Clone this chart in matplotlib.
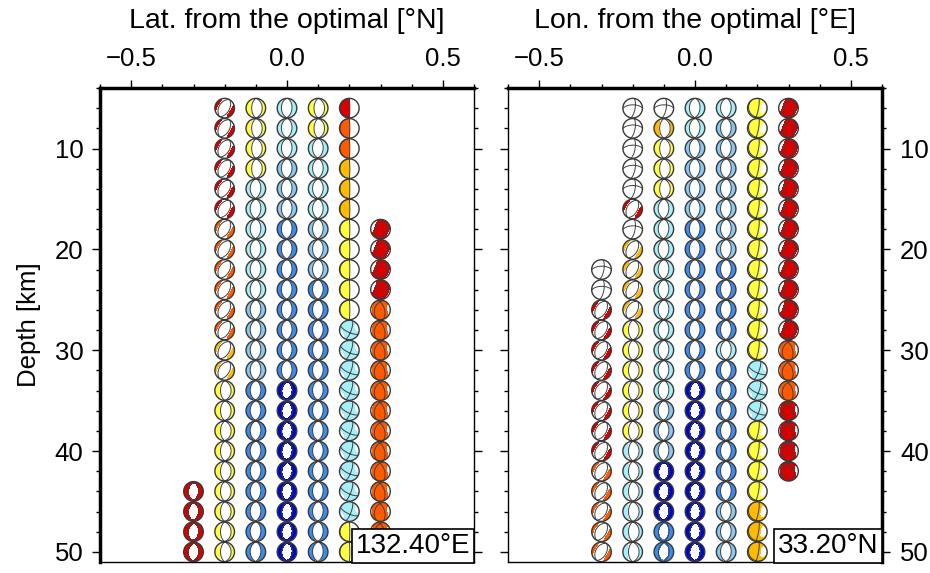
import numpy as np
import matplotlib.pyplot as plt
from matplotlib.patches import Ellipse

plt.rcParams['font.family'] = ['Liberation Sans', 'DejaVu Sans']

# depth of the grid nodes [km]
depth_step = 2

# Lat. panel: offset of each column, first depth, colour code of each ball, mechanism code
lat_offsets = [-0.3, -0.2, -0.1, 0.0, 0.1, 0.2, 0.3]
lat_start = [44, 6, 6, 6, 6, 6, 18]
lat_colours = [
    "RRRR",
    "RRRRRROOOOOOAAYYYYYYYYY",
    "YYYYCCCCCCSSSSBBBBBBBBB",
    "CCCSSSBBBBBBBBDDDDDDDDD",
    "YYCCCCSSSBBBBBBBBBBBBBB",
    "ROOAAAYYYYYCCCCCCCCCCYY",
    "RRRROOOOOOOOOOOOO",
]
lat_mechs = [
    "cccc",
    "aaaaaaaaaaaaaaeeeeeeeee",
    "eeeebbbbbbbbbbbbbbbbbbb",
    "bbbbbbbbbbbbbbccccccccc",
    "eebbbbbbbbbbbbbbbbbbbbb",
    "vvvvvvvvvvvxxxxxxxxxxvv",
    "rrrrttttttttttttt",
]

# Lon. panel
lon_offsets = [-0.3, -0.2, -0.1, 0.0, 0.1, 0.2, 0.3]
lon_start = [22, 6, 6, 6, 6, 6, 6]
lon_colours = [
    "WWRRRRRRRROOOOO",
    "WWWWWRWAAAAYYYYYYCCCCCC",
    "WAYYYCCCCCCCCCCSSSDDDBB",
    "CCSSSSBBBBBBBBDDDDDDDDD",
    "CSSSSSSSBBBBCBBBBBBBSSS",
    "YYYYYYYYYYYYYCCCYYYYAAA",
    "RRRRRRRRRRRROOORRRR",
]
lon_mechs = [
    "wwaaaaaaaaaaaaa",
    "wwwwwawaaaaeeeeeeeeeeee",
    "weeeebbbbbbbbbbbbbccccc",
    "bbbbbbbbbbbbbbccccccccc",
    "bbbbbbbbbbbbbbbbbbbbbbb",
    "yyyyyyyyyyyyyxxxyyyyyyy",
    "rrrrrrrrrrrrttttttt",
]

colour_table = {
    "W": "#ffffff", "R": "#d80000", "O": "#ff5a00", "A": "#ffbb00",
    "Y": "#ffff40", "C": "#a8eef8", "S": "#88c8f2", "B": "#3c8cf0",
    "D": "#0008c8",
}
# strike, dip, rake, isotropic part
mech_table = {
    "a": (30, 50, -90, -0.5),
    "e": (180, 55, -90, -0.3),
    "b": (5, 48, -85, -0.1),
    "c": (5, 45, -90, 0.08),
    "v": (0, 86, 90, 0.0),
    "x": (20, 75, 160, 0.55),
    "r": (30, 35, 100, 0.5),
    "t": (200, 40, 120, 0.6),
    "y": (10, 80, 100, 0.45),
    "w": (10, 70, -150, 0.0),
}


def moment(strike, dip, rake):
    s, d, l = np.radians([strike, dip, rake])
    mxx = -(np.sin(d) * np.cos(l) * np.sin(2 * s) + np.sin(2 * d) * np.sin(l) * np.sin(s) ** 2)
    mxy = np.sin(d) * np.cos(l) * np.cos(2 * s) + 0.5 * np.sin(2 * d) * np.sin(l) * np.sin(2 * s)
    mxz = -(np.cos(d) * np.cos(l) * np.cos(s) + np.cos(2 * d) * np.sin(l) * np.sin(s))
    myy = np.sin(d) * np.cos(l) * np.sin(2 * s) - np.sin(2 * d) * np.sin(l) * np.cos(s) ** 2
    myz = -(np.cos(d) * np.cos(l) * np.sin(s) - np.cos(2 * d) * np.sin(l) * np.cos(s))
    mzz = np.sin(2 * d) * np.sin(l)
    return np.array([[mxx, mxy, mxz], [mxy, myy, myz], [mxz, myz, mzz]])


# unit disc grid, lower hemisphere equal-area
u = np.linspace(-1.03, 1.03, 35)
U, V = np.meshgrid(u, u)
R = np.clip(np.hypot(U, V), 0, 1)
inc = 2 * np.arcsin(R / np.sqrt(2))
az = np.arctan2(U, V)
G = np.stack([np.cos(az) * np.sin(inc), np.sin(az) * np.sin(inc), np.cos(inc)])


def beachball(ax, x0, y0, rx, ry, colour, mech):
    strike, dip, rake, iso = mech
    M = moment(strike, dip, rake)
    amp = np.einsum('iab,ij,jab->ab', G, M, G)
    X = x0 + U * rx
    Y = y0 - V * ry
    bg = Ellipse((x0, y0), 2 * rx, 2 * ry, facecolor='white', edgecolor='none', zorder=2)
    ax.add_patch(bg)
    if colour != '#ffffff':
        cs = ax.contourf(X, Y, amp + iso, levels=[0, 10], colors=[colour], zorder=3)
        cs.set_clip_path(bg)
    cl = ax.contour(X, Y, amp, levels=[0], colors='#404040', linewidths=0.7, zorder=4)
    cl.set_clip_path(bg)
    ax.add_patch(Ellipse((x0, y0), 2 * rx, 2 * ry, facecolor='none',
                         edgecolor='#383838', lw=1.0, zorder=5))


fig = plt.figure(figsize=(9.3, 5.73), dpi=100)
ax1 = fig.add_axes([100 / 930, 11 / 573, 374 / 930, 474 / 573])
ax2 = fig.add_axes([508 / 930, 11 / 573, 374 / 930, 474 / 573])

rpx = 9.8
for ax, offs, starts, colours, mechs, title, tag in [
        (ax1, lat_offsets, lat_start, lat_colours, lat_mechs, 'Lat. from the optimal [°N]', '132.40°E'),
        (ax2, lon_offsets, lon_start, lon_colours, lon_mechs, 'Lon. from the optimal [°E]', '33.20°N')]:
    ax.set_xlim(-0.6, 0.6)
    ax.set_ylim(51, 4)
    rx = rpx * 1.2 / 374
    ry = rpx * 47 / 474
    for xo, d0, cstr, mstr in zip(offs, starts, colours, mechs):
        for k, (c, m) in enumerate(zip(cstr, mstr)):
            beachball(ax, xo, d0 + k * depth_step, rx, ry, colour_table[c], mech_table[m])

    ax.xaxis.tick_top()
    ax.xaxis.set_label_position('top')
    ax.set_xticks([-0.5, 0.0, 0.5])
    ax.set_xticklabels(['\u22120.5', '0.0', '0.5'])
    ax.set_xticks(np.arange(-0.6, 0.61, 0.1), minor=True)
    ax.set_yticks([10, 20, 30, 40, 50])
    ax.set_yticks(np.arange(4, 51, 2), minor=True)
    ax.tick_params(which='both', direction='out', width=1, labelsize=18.5, pad=6,
                   left=True, right=True, top=True, bottom=False)
    ax.tick_params(which='major', length=6)
    ax.tick_params(which='minor', length=3)
    ax.set_xlabel(title, fontsize=20.5, labelpad=14)
    ax.text(0.588, 49.4, tag, fontsize=20, ha='right', va='center', zorder=10,
            bbox=dict(boxstyle='square,pad=0.15', facecolor='white', edgecolor='black', lw=1.2))
    for sp in ax.spines.values():
        sp.set_linewidth(1.0)
    ax.spines['top'].set_linewidth(2.5)

ax1.spines['left'].set_linewidth(2.5)
ax1.set_ylabel('Depth [km]', fontsize=18.5, labelpad=10)
ax1.tick_params(labelleft=True, labelright=False)
ax2.spines['right'].set_linewidth(2.5)
ax2.tick_params(axis='y', labelleft=False, labelright=True, pad=7)

fig.savefig('out.png', dpi=100)
